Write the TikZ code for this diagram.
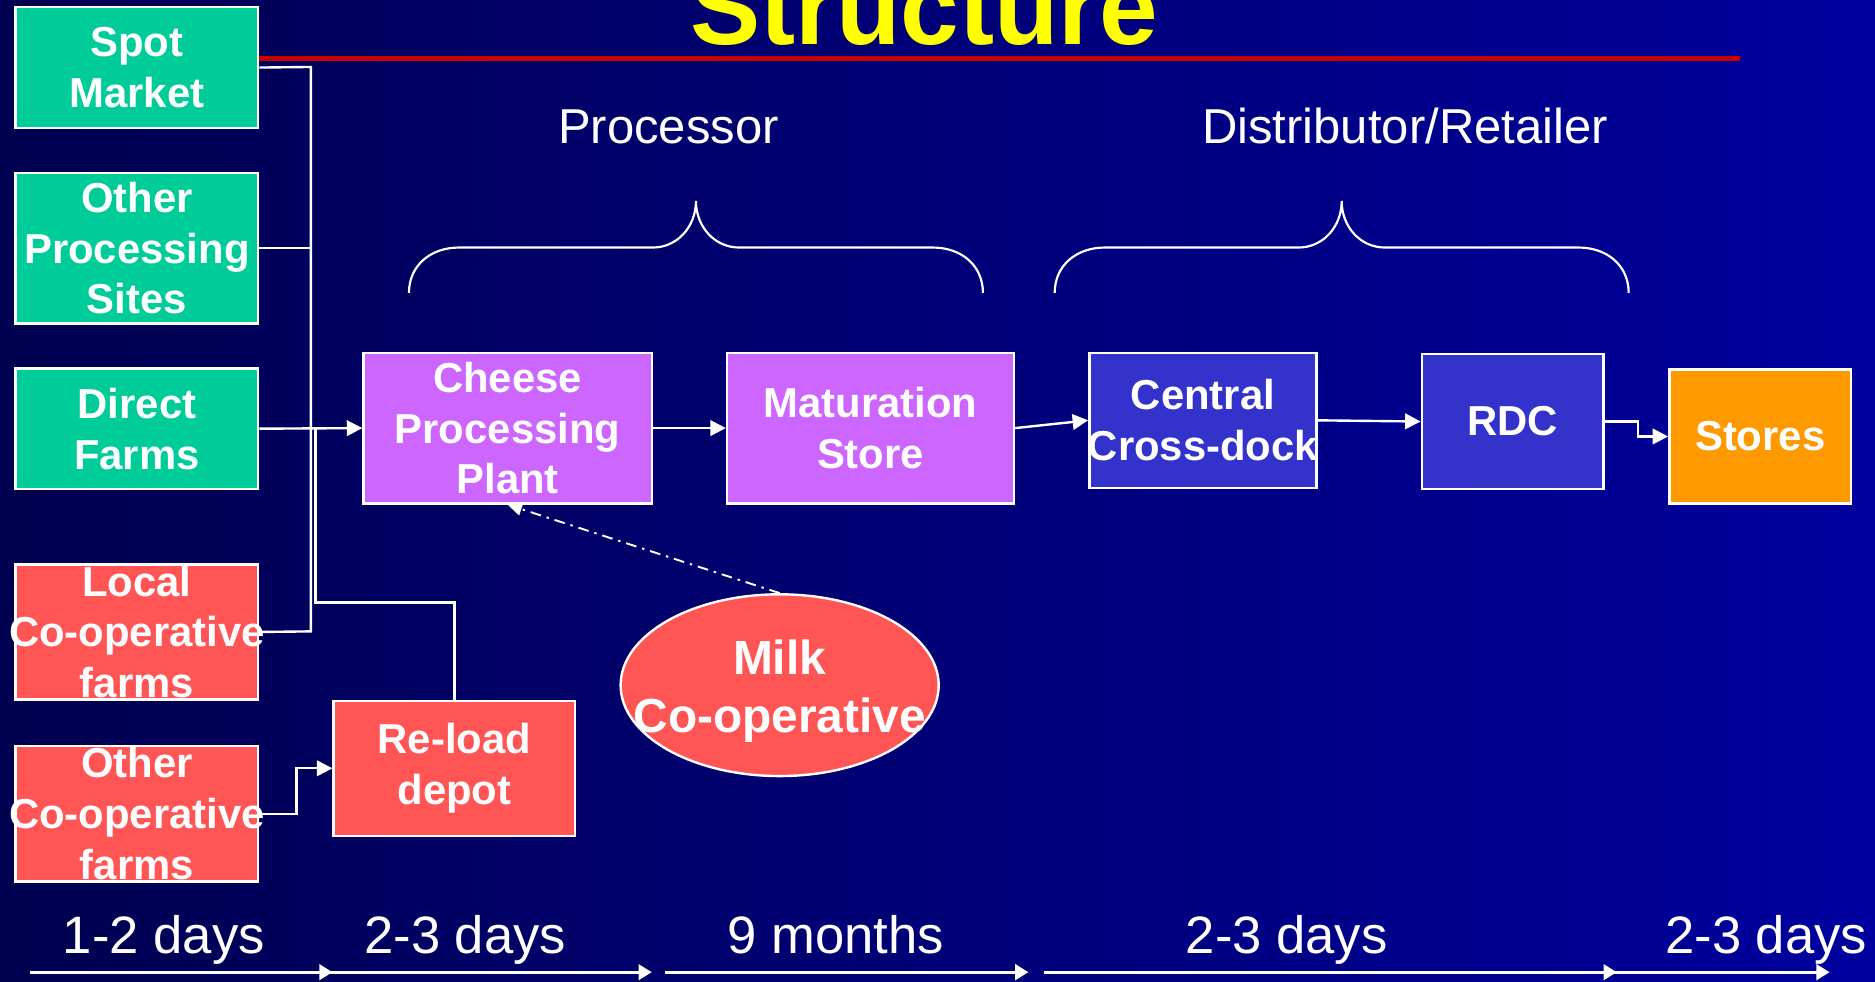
\documentclass[tikz,border=0pt]{standalone}
\usepackage{fontspec}
\setmainfont{Liberation Sans}
\usetikzlibrary{arrows.meta,shapes.geometric}
\definecolor{bgleft}{RGB}{0,0,80}
\definecolor{bgright}{RGB}{0,0,158}
\definecolor{supplygreen}{RGB}{0,204,153}
\definecolor{farmred}{RGB}{255,85,85}
\definecolor{procpurple}{RGB}{204,102,255}
\definecolor{distblue}{RGB}{51,51,204}
\definecolor{storeorange}{RGB}{255,153,0}
\definecolor{rulered}{RGB}{200,0,0}
\definecolor{titleyellow}{RGB}{255,255,0}
\newcommand{\zw}[1]{\makebox[0pt]{#1}}
\begin{document}
\begin{tikzpicture}[x=1pt,y=-1pt,
  box/.style={draw=white, line width=2pt, rectangle, inner sep=0pt, align=center,
    text=white, font=\fontsize{35}{42.5}\selectfont\bfseries},
  flow/.style={draw=white, line width=2pt, -{Triangle[length=13pt,width=13pt]}},
  link/.style={draw=white, line width=2pt},
  timeline/.style={draw=white, line width=2.2pt, -{Triangle[length=11pt,width=13pt]}},
  brace/.style={draw=white, line width=1.8pt},
  stage/.style={text=white, font=\fontsize{41}{49}\selectfont, anchor=base, inner sep=0pt},
  period/.style={text=white, font=\fontsize{44}{52}\selectfont, anchor=base, inner sep=0pt}]

% background and frame
\useasboundingbox (0,0) rectangle (1568,821);
\clip (0,0) rectangle (1568,821);
\shade[left color=bgleft, right color=bgright] (0,0) rectangle (1568,821);

% heading
\node[text=titleyellow, font=\fontsize{88}{100}\selectfont\bfseries, anchor=base, inner sep=0pt]
  (title) at (773,37) {Structure};
\draw[rulered, line width=4pt] (216,49) -- (1455,49);

% stage labels
\node[stage] (processor) at (559,120) {Processor};
\node[stage] (distributor) at (1175,120) {Distributor/Retailer};

% braces
\draw[brace] (342,245) .. controls (342,222) and (360,207) .. (384,207) -- (546,207)
  .. controls (566,207) and (582,190) .. (582,168)
  .. controls (582,190) and (598,207) .. (618,207) -- (780,207)
  .. controls (804,207) and (822,222) .. (822,245);
\draw[brace] (882,245) .. controls (882,222) and (900,207) .. (924,207) -- (1086,207)
  .. controls (1106,207) and (1122,190) .. (1122,168)
  .. controls (1122,190) and (1138,207) .. (1158,207) -- (1320,207)
  .. controls (1344,207) and (1362,222) .. (1362,245);

% supply sources
\node[box, fill=supplygreen, minimum width=203pt, minimum height=101pt] (sm) at (114.5,56.5) {Spot\\Market};
\node[box, fill=supplygreen, minimum width=203pt, minimum height=126pt] (ops) at (114.5,207.5) {Other\\Processing\\Sites};
\node[box, fill=supplygreen, minimum width=203pt, minimum height=101pt] (df) at (114.5,358.5) {Direct\\Farms};
\node[box, fill=farmred, minimum width=203pt, minimum height=113pt] (lc) at (114.5,528.5) {Local\\\zw{Co-operative}\\farms};
\node[box, fill=farmred, minimum width=203pt, minimum height=113pt] (oc) at (114.5,680.5) {Other\\\zw{Co-operative}\\farms};
\node[box, fill=farmred, minimum width=202pt, minimum height=113pt] (rd) at (380,642.5) {Re-load\\depot};

% processing and distribution
\node[box, fill=procpurple, minimum width=241pt, minimum height=126pt] (cpp) at (424.5,358) {Cheese\\Processing\\Plant};
\node[box, fill=procpurple, minimum width=240pt, minimum height=126pt] (ms) at (728,358) {Maturation\\Store};
\node[box, fill=distblue, minimum width=190pt, minimum height=113pt] (cd) at (1006,351.5) {Central\\\zw{Cross-dock}};
\node[box, fill=distblue, minimum width=152pt, minimum height=113pt] (rdc) at (1265,352.5) {RDC};
\node[box, fill=storeorange, minimum width=152pt, minimum height=112pt] (st) at (1472,365) {Stores};
\node[ellipse, draw=white, line width=2pt, fill=farmred, minimum width=266pt, minimum height=152pt,
  inner sep=0pt] (mc) at (652,573) {};
\node[align=center, text=white, inner sep=0pt, font=\fontsize{40}{49}\selectfont\bfseries]
  (mclabel) at ([yshift=-5pt]mc.center) {\zw{Milk}\\\zw{Co-operative}};

% collection network feeding the plant
\coordinate (busTop) at (260,56);
\coordinate (busBot) at (260,528);
\draw[link] (sm.east) -- (busTop) -- (busBot) -- (lc.east);
\draw[link] (ops.east) -- (ops.east -| busTop);
\draw[flow] (df.east) -- (cpp.west);
\coordinate (relayTop) at (264,358);
\coordinate (relayBot) at (264,504);
\draw[link] (relayTop) -- (relayBot) -| (rd.north);
\draw[flow] (oc.east) -- ++(31,0) |- (rd.west);

% product flow
\draw[flow] (cpp.east) -- (ms.west);
\draw[flow] (ms.east) -- (cd.west);
\draw[flow] (cd.east) -- (rdc.west);
\draw[flow] (rdc.east) -- ++(28,0) |- (st.west);
\draw[draw=white, line width=1.6pt, -{Triangle[length=12pt,width=11pt]},
  dash pattern=on 9pt off 5pt on 2pt off 5pt] (mc.north) -- (cpp.south);

% lead times
\node[period] (t1) at (137,797) {1-2 days};
\node[period] (t2) at (389,797) {2-3 days};
\node[period] (t3) at (699,797) {9 months};
\node[period] (t4) at (1076,797) {2-3 days};
\node[period] (t5) at (1477,797) {2-3 days};
\coordinate (a0) at (25,813);
\coordinate (a1) at (278,813);
\coordinate (a1s) at (270,813);
\coordinate (a2) at (545,813);
\coordinate (a3s) at (556,813);
\coordinate (a3) at (860,813);
\coordinate (a4s) at (873,813);
\coordinate (a4) at (1352,813);
\coordinate (a5s) at (1345,813);
\coordinate (a5) at (1530,813);
\draw[timeline] (a0) -- (a1);
\draw[timeline] (a1s) -- (a2);
\draw[timeline] (a3s) -- (a3);
\draw[timeline] (a4s) -- (a4);
\draw[timeline] (a5s) -- (a5);
\end{tikzpicture}
\end{document}
